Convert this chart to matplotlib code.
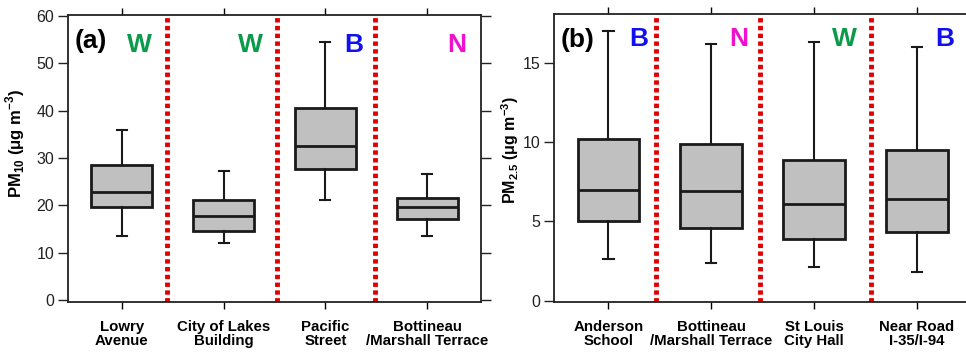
import matplotlib
matplotlib.use('Agg')
import matplotlib.pyplot as plt

plt.rcParams['font.family'] = ['Liberation Sans', 'DejaVu Sans']
plt.rcParams['mathtext.fontset'] = 'custom'
plt.rcParams['mathtext.rm'] = 'Liberation Sans:bold'
plt.rcParams['mathtext.bf'] = 'Liberation Sans:bold'

# panel (a) PM10
sites_a = ['Lowry\nAvenue', 'City of Lakes\nBuilding', 'Pacific\nStreet', 'Bottineau\n/Marshall Terrace']
tags_a = ['W', 'W', 'B', 'N']
whislo_a = [13.5, 12.1, 21.1, 13.6]
q1_a = [19.7, 14.6, 27.6, 17.1]
med_a = [22.9, 17.8, 32.6, 19.6]
q3_a = [28.6, 21.2, 40.5, 21.6]
whishi_a = [35.9, 27.2, 54.5, 26.7]
seps_a = [1.44, 2.52, 3.49]

# panel (b) PM2.5
sites_b = ['Anderson\nSchool', 'Bottineau\n/Marshall Terrace', 'St Louis\nCity Hall', 'Near Road\nI-35/I-94']
tags_b = ['B', 'N', 'W', 'B']
whislo_b = [2.6, 2.4, 2.1, 1.8]
q1_b = [5.0, 4.6, 3.9, 4.3]
med_b = [7.0, 6.9, 6.1, 6.4]
q3_b = [10.2, 9.9, 8.9, 9.5]
whishi_b = [17.0, 16.2, 16.3, 16.0]
seps_b = [1.46, 2.47, 3.55]

tag_colors = {'W': '#0a9a4a', 'B': '#1010f0', 'N': '#f010d0'}


def make_stats(lo, a, m, b, hi):
    return [dict(whislo=lo[i], q1=a[i], med=m[i], q3=b[i], whishi=hi[i], fliers=[])
            for i in range(len(m))]


def draw_panel(ax, stats, sites, tags, seps, ylim, yticks, letter, tag_y, tag_dx):
    ax.bxp(stats, positions=[1, 2, 3, 4], widths=0.6, patch_artist=True,
           boxprops=dict(facecolor='#c0c0c0', edgecolor='#1a1a1a', linewidth=2),
           medianprops=dict(color='#1a1a1a', linewidth=2),
           whiskerprops=dict(color='#1a1a1a', linewidth=1.5),
           capprops=dict(color='#1a1a1a', linewidth=1.5), capwidths=0.1)
    for s in seps:
        ax.axvline(s, color='#e00000', linewidth=3.5, linestyle=(0, (0.9, 0.7)))
    ax.set_xlim(0.47, 4.53)
    ax.set_ylim(*ylim)
    ax.set_yticks(yticks)
    ax.set_xticks([1, 2, 3, 4])
    ax.set_xticklabels(sites, fontweight='bold', fontsize=10.8, linespacing=1.0)
    ax.tick_params(axis='y', direction='out', length=7, width=1, labelsize=11.5,
                   right=True, colors='#222222', pad=3)
    ax.tick_params(axis='x', direction='out', length=5, width=1, top=True, pad=8)
    for sp in ax.spines.values():
        sp.set_linewidth(1.3)
        sp.set_color('#222222')
    ax.text(0.015, 0.95, letter, transform=ax.transAxes, fontsize=19,
            fontweight='bold', va='top', ha='left')
    for i, t in enumerate(tags):
        ax.text(i + 1 + tag_dx[i], tag_y, t, color=tag_colors[t], fontsize=19,
                fontweight='bold', ha='center', va='center')


fig = plt.figure(figsize=(9.66, 3.55), dpi=100)
ax1 = fig.add_axes([0.0704, 0.149, 0.4276, 0.809])
ax2 = fig.add_axes([0.5735, 0.149, 0.432, 0.812])

draw_panel(ax1, make_stats(whislo_a, q1_a, med_a, q3_a, whishi_a), sites_a, tags_a,
           seps_a, (-0.4, 60.2), [0, 10, 20, 30, 40, 50, 60],
           '(a)', 53.8, [0.17, 0.26, 0.28, 0.29])
draw_panel(ax2, make_stats(whislo_b, q1_b, med_b, q3_b, whishi_b), sites_b, tags_b,
           seps_b, (-0.1, 18.1), [0, 5, 10, 15],
           '(b)', 16.5, [0.29, 0.27, 0.30, 0.27])
ax1.set_ylabel(r'PM$_{10}$ (μg m$^{-3}$)', fontweight='bold', fontsize=12)
ax2.set_ylabel(r'PM$_{2.5}$ (μg m$^{-3}$)', fontweight='bold', fontsize=11.5)
ax1.yaxis.set_label_coords(-0.099, 0.554)
ax2.yaxis.set_label_coords(-0.078, 0.528)

fig.savefig('out.png', dpi=100)
